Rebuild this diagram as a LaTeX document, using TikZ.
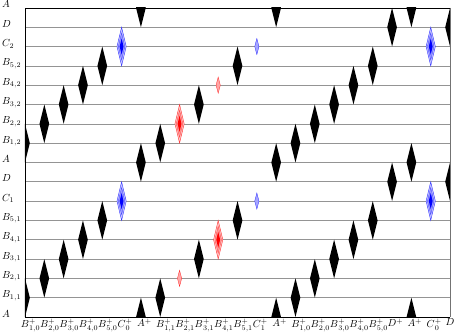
\documentclass[tikz,border=0pt]{standalone}
\usepackage{tikz}
\begin{document}
\begin{tikzpicture}[x=0.6626cm,y=0.6626cm,
  gridline/.style={draw=black!42,line width=0.55pt},
  framel/.style={draw=black,line width=0.7pt},
  rowlab/.style={anchor=base west,inner sep=0pt},
  collab/.style={anchor=north,inner sep=0pt}]
\useasboundingbox (-1.294,-0.828) rectangle (22.36,16.408);
% grid lines
\foreach \r in {1,...,15} \draw[gridline] (0,\r) -- (22,\r);
% diamonds (clipped to the frame)
\newcommand\bkdia[2]{\fill[black] (#1,#2+1) -- (#1+0.25,#2) -- (#1,#2-1) -- (#1-0.25,#2) -- cycle;}
\newcommand\bigdia[3]{%
  \filldraw[fill=#3!22,draw=#3!80,line width=0.4pt] (#1,#2+1) -- (#1+0.24,#2) -- (#1,#2-1) -- (#1-0.24,#2) -- cycle;
  \filldraw[fill=#3!40,draw=#3!75,line width=0.3pt] (#1,#2+0.7) -- (#1+0.17,#2) -- (#1,#2-0.7) -- (#1-0.17,#2) -- cycle;
  \fill[#3] (#1,#2+0.42) -- (#1+0.1,#2) -- (#1,#2-0.42) -- (#1-0.1,#2) -- cycle;}
\newcommand\smdia[3]{%
  \filldraw[fill=#3!35,draw=#3!85,line width=0.3pt] (#1,#2+0.42) -- (#1+0.11,#2) -- (#1,#2-0.42) -- (#1-0.11,#2) -- cycle;}
\begin{scope}
\clip (0,0) rectangle (22,16);
\foreach \c/\r in {0/1,0/9,1/2,1/10,2/3,2/11,3/4,3/12,4/5,4/13,
  6/0,6/8,6/16,7/1,7/9,9/3,9/11,11/5,11/13,13/0,13/8,13/16,
  14/1,14/9,15/2,15/10,16/3,16/11,17/4,17/12,18/5,18/13,
  19/7,19/15,20/0,20/8,20/16,22/7,22/15} {\bkdia{\c}{\r}}
\foreach \c/\r in {5/6,5/14,21/6,21/14} {\bigdia{\c}{\r}{blue}}
\bigdia{8}{10}{red}
\bigdia{10}{4}{red}
\smdia{8}{2}{red}
\smdia{10}{12}{red}
\smdia{12}{6}{blue}
\smdia{12}{14}{blue}
\end{scope}
% frame
\draw[draw=black!55,line width=0.9pt] (22,0) -- (22,16);
\draw[framel] (22,16) -- (0,16) -- (0,0) -- (22,0);
% row labels
\foreach \r/\t in {0/A,1/B_{1,1},2/B_{2,1},3/B_{3,1},4/B_{4,1},5/B_{5,1},6/C_1,7/D,
  8/A,9/B_{1,2},10/B_{2,2},11/B_{3,2},12/B_{4,2},13/B_{5,2},14/C_2,15/D,16/A}
  \node[rowlab] (r\r) at (-1.19,\r) {$\t$};
% column labels
\foreach \c/\b/\s in {0/B/^+_{1,0},1/B/^+_{2,0},2/B/^+_{3,0},3/B/^+_{4,0},4/B/^+_{5,0},
  5/C/^+_0,6/A/^+,7/B/^+_{1,1},8/B/^+_{2,1},9/B/^+_{3,1},10/B/^+_{4,1},11/B/^+_{5,1},
  12/C/^+_1,13/A/^+,14/B/^+_{1,0},15/B/^+_{2,0},16/B/^+_{3,0},17/B/^+_{4,0},18/B/^+_{5,0},
  19/D/^+,20/A/^+,21/C/^+_0}
  \node[collab] (c\c) at (\c,-0.08) {$\b$\rlap{$\s$}};
\node[collab] (c22) at (22,-0.08) {$D$};
\end{tikzpicture}
\end{document}
